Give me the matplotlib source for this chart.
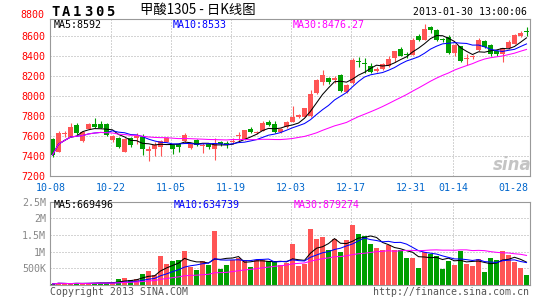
import numpy as np
import pandas as pd
import matplotlib
matplotlib.use('Agg')
import matplotlib.pyplot as plt

# K线数据 (2012-10-08 ~ 2013-01-30, 80 个交易日)
opens = [7565, 7440, 7620, 7585, 7705, 7550, 7670, 7722, 7715, 7715,
         7560, 7578, 7440, 7575, 7580, 7590, 7450, 7470, 7485, 7540,
         7505, 7520, 7545, 7480, 7555, 7500, 7520, 7470, 7540, 7525,
         7535, 7595, 7570, 7665, 7625, 7650, 7740, 7715, 7640, 7685,
         7740, 7790, 7790, 7795, 8025, 8135, 8180, 8155, 8205, 8035,
         8130, 8345, 8330, 8300, 8245, 8262, 8293, 8380, 8470, 8420,
         8410, 8600, 8560, 8690, 8655, 8565, 8585, 8425, 8495, 8365,
         8385, 8455, 8545, 8505, 8450, 8415, 8475, 8520, 8595, 8650]
highs = [7575, 7645, 7645, 7730, 7725, 7645, 7725, 7775, 7745, 7725,
         7610, 7590, 7580, 7590, 7625, 7620, 7500, 7535, 7560, 7590,
         7515, 7530, 7630, 7520, 7570, 7530, 7530, 7580, 7550, 7550,
         7580, 7640, 7660, 7690, 7650, 7745, 7760, 7745, 7680, 7750,
         7900, 7815, 7880, 8055, 8165, 8260, 8185, 8200, 8215, 8115,
         8375, 8385, 8375, 8330, 8285, 8330, 8400, 8450, 8490, 8440,
         8580, 8620, 8720, 8700, 8665, 8580, 8610, 8520, 8500, 8415,
         8410, 8575, 8555, 8520, 8460, 8480, 8560, 8620, 8645, 8690]
lows = [7390, 7440, 7590, 7585, 7610, 7535, 7665, 7680, 7678, 7600,
        7540, 7480, 7440, 7490, 7515, 7410, 7350, 7400, 7395, 7535,
        7415, 7440, 7535, 7470, 7500, 7430, 7465, 7360, 7500, 7480,
        7515, 7550, 7560, 7630, 7620, 7645, 7700, 7625, 7630, 7680,
        7735, 7775, 7785, 7790, 8015, 8110, 8115, 8125, 8040, 8030,
        8115, 8290, 8225, 8225, 8235, 8255, 8285, 8340, 8395, 8380,
        8405, 8550, 8555, 8630, 8545, 8535, 8420, 8400, 8340, 8310,
        8365, 8450, 8480, 8400, 8400, 8340, 8470, 8515, 8590, 8600]
closes = [7410, 7625, 7628, 7690, 7630, 7635, 7718, 7690, 7682, 7610,
          7600, 7487, 7570, 7510, 7595, 7466, 7466, 7510, 7545, 7580,
          7470, 7485, 7610, 7515, 7510, 7510, 7485, 7530, 7515, 7508,
          7545, 7600, 7655, 7635, 7642, 7730, 7710, 7635, 7670, 7740,
          7790, 7805, 7873, 8020, 8155, 8210, 8135, 8178, 8045, 8110,
          8360, 8335, 8318, 8240, 8270, 8320, 8365, 8445, 8400, 8410,
          8560, 8555, 8668, 8655, 8560, 8555, 8425, 8510, 8347, 8378,
          8395, 8560, 8490, 8415, 8420, 8475, 8540, 8605, 8625, 8640]
volumes_k = [30, 70, 40, 30, 70, 30, 70, 70, 70, 70,
             60, 170, 220, 140, 190, 340, 410, 290, 870, 640,
             710, 760, 1010, 540, 440, 710, 590, 1610, 490, 590,
             760, 810, 760, 550, 740, 760, 710, 730, 610, 650,
             1220, 570, 640, 1690, 1390, 1440, 1040, 1390, 990, 1340,
             1790, 1520, 1470, 1220, 1120, 1040, 1190, 1040, 1040, 820,
             820, 520, 990, 940, 870, 490, 730, 590, 1010, 640,
             560, 790, 380, 820, 740, 1010, 890, 690, 520, 310]

tick_idx = [0, 10, 20, 30, 40, 50, 60, 67, 77]
tick_labels = ['10-08', '10-22', '11-05', '11-19', '12-03', '12-17', '12-31', '01-14', '01-28']
price_ticks = [7200, 7400, 7600, 7800, 8000, 8200, 8400, 8600]
vol_ticks = [500000, 1000000, 1500000, 2000000, 2500000]
vol_tick_labels = ['500K', '1M', '1.5M', '2M', '2.5M']

RED = '#ff5555'
GREEN = '#009f00'
GRID = '#aaaaaa'
MONO = 'DejaVu Sans Mono'
W, H = 545, 300

df = pd.DataFrame({'o': opens, 'h': highs, 'l': lows, 'c': closes,
                   'v': np.array(volumes_k) * 1000})
x = np.arange(len(df))
up = df['c'] >= df['o']
colors = np.where(up, RED, GREEN)
for n in (5, 10, 30):
    df[f'ma{n}'] = df['c'].rolling(n, min_periods=1).mean()
    df[f'vma{n}'] = df['v'].rolling(n, min_periods=1).mean()


def fx(px):
    return px / W


def fy(py):
    return 1 - py / H


fig = plt.figure(figsize=(W / 100, H / 100), dpi=100)
ax = fig.add_axes([fx(50), fy(176), (529.5 - 50) / W, (176 - 19.3) / H])
axv = fig.add_axes([fx(50), fy(285), (529.5 - 50) / W, (285 - 201.5) / H])

grid_pos = [i - 0.25 for i in tick_idx[1:-1]]
for a in (ax, axv):
    a.set_xlim(-0.42, 79.5)
    for s in a.spines.values():
        s.set_color('#999999')
        s.set_linewidth(0.8)
    for g in grid_pos:
        a.axvline(g, color=GRID, lw=0.72, ls=(0, (1, 2)), zorder=0)
    a.tick_params(length=0)

# ---- 价格 ----
ax.set_ylim(7200, 8762)
for p in price_ticks[1:]:
    ax.axhline(p, color=GRID, lw=0.72, ls=(0, (1, 2)), zorder=0)
body_lo = np.minimum(df['o'], df['c'])
body_h = np.maximum(np.abs(df['c'] - df['o']), 9)
ax.vlines(x, df['l'], df['h'], colors=colors, lw=0.8, zorder=2)
ax.bar(x, body_h, bottom=body_lo, width=0.83, color=colors, linewidth=0, zorder=2)
ax.plot(x, df['ma5'], color='black', lw=0.75, zorder=3)
ax.plot(x, df['ma10'], color='#0000ff', lw=0.75, zorder=3)
ax.plot(x, df['ma30'], color='#ff00ff', lw=0.75, zorder=3)
ax.set_yticks(price_ticks)
ax.set_yticklabels([str(p) for p in price_ticks], color='#ff0000', family=MONO, fontsize=7.2)
ax.tick_params(axis='y', pad=3)
ax.set_xticks([i - 0.25 for i in tick_idx])
ax.set_xticklabels(tick_labels, color='#0066cc', family=MONO, fontsize=7.2)
ax.tick_params(axis='x', pad=5)
ax.text(-0.011, 8800, '8800', transform=ax.get_yaxis_transform(), ha='right', va='center',
        color='#ff0000', family=MONO, fontsize=7.2, clip_on=False)

# ---- 成交量 ----
axv.set_ylim(0, 2500000)
for v in vol_ticks[:-1]:
    axv.axhline(v, color=GRID, lw=0.72, ls=(0, (1, 2)), zorder=0)
axv.bar(x, df['v'], width=0.83, color=colors, linewidth=0, zorder=2)
axv.plot(x, df['vma5'], color='black', lw=0.75, zorder=3)
axv.plot(x, df['vma10'], color='#0000ff', lw=0.75, zorder=3)
axv.plot(x, df['vma30'], color='#ff00ff', lw=0.75, zorder=3)
axv.set_yticks(vol_ticks)
axv.set_yticklabels(vol_tick_labels, color='#888888', family=MONO, fontsize=7.2)
axv.tick_params(axis='y', pad=3)
axv.set_xticks([])

# ---- 文字 ----
for k, ch in enumerate('TA1305'):
    fig.text(fx(51 + 11.1 * k), fy(11.5), ch, family=MONO, fontweight='bold',
             fontsize=10, va='center', ha='left')
fig.text(fx(140), fy(10), '甲酸1305 - 日K线图', family=['Noto Sans CJK SC', 'DejaVu Sans'],
         fontsize=9.6, va='center', ha='left')
fig.text(fx(527), fy(12), '2013-01-30 13:00:06', family=MONO, fontsize=7.1,
         va='center', ha='right')

fig.text(fx(54), fy(24.5), 'MA5:8592', color='black', family=MONO, fontsize=7.2, va='center')
fig.text(fx(173), fy(24.5), 'MA10:8533', color='#0000ff', family=MONO, fontsize=7.2, va='center')
fig.text(fx(293), fy(24.5), 'MA30:8476.27', color='#ff00ff', family=MONO, fontsize=7.2, va='center')
fig.text(fx(54), fy(205.5), 'MA5:669496', color='black', family=MONO, fontsize=7.2, va='center')
fig.text(fx(174), fy(205.5), 'MA10:634739', color='#0000ff', family=MONO, fontsize=7.2, va='center')
fig.text(fx(294), fy(205.5), 'MA30:879274', color='#ff00ff', family=MONO, fontsize=7.2, va='center')

fig.text(fx(512), fy(165), 'sina', color='#c4c4c4', fontsize=12, fontstyle='italic',
         fontweight='bold', ha='center', va='center')
fig.text(fx(50), fy(292), 'Copyright 2013 SINA.COM', color='#555555', family=MONO,
         fontsize=7.1, va='center', ha='left')
fig.text(fx(529), fy(292), 'http://finance.sina.com.cn', color='#555555', family=MONO,
         fontsize=7.1, va='center', ha='right')

fig.savefig('out.png', dpi=100)
